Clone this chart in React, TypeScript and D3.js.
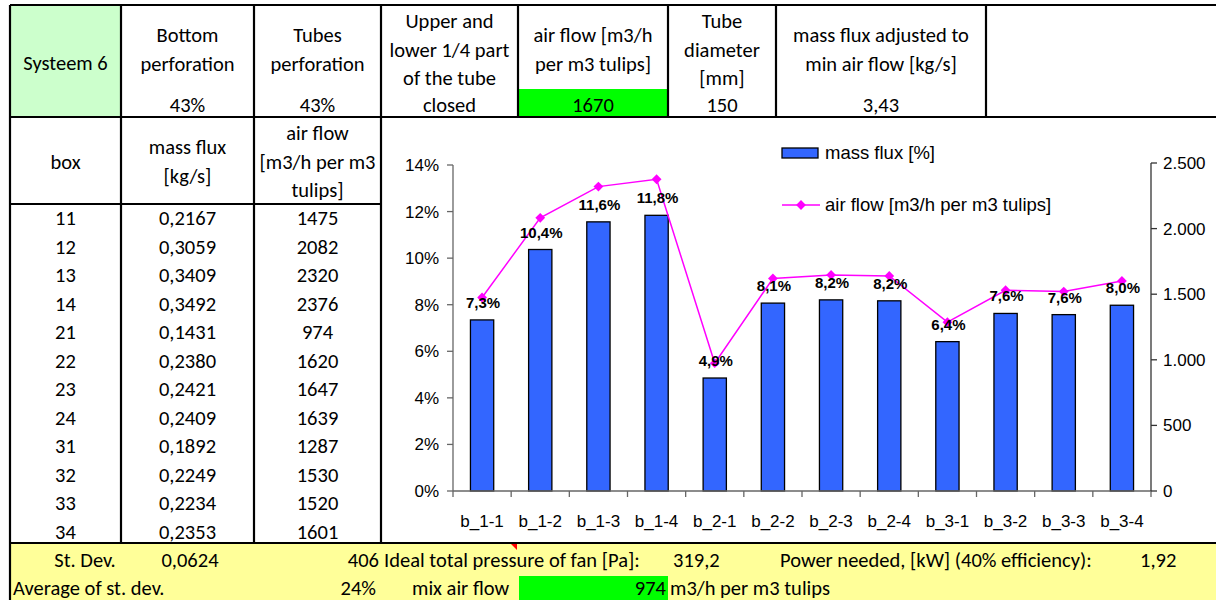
import * as d3 from "d3"

const categories = ["b_1-1", "b_1-2", "b_1-3", "b_1-4", "b_2-1", "b_2-2", "b_2-3", "b_2-4", "b_3-1", "b_3-2", "b_3-3", "b_3-4"]
const boxes = ["11", "12", "13", "14", "21", "22", "23", "24", "31", "32", "33", "34"]
const massFlux = [0.2167, 0.3059, 0.3409, 0.3492, 0.1431, 0.238, 0.2421, 0.2409, 0.1892, 0.2249, 0.2234, 0.2353]
const airFlow = [1475, 2082, 2320, 2376, 974, 1620, 1647, 1639, 1287, 1530, 1520, 1601]
const massFluxPct = [7.347, 10.371, 11.558, 11.839, 4.852, 8.069, 8.208, 8.167, 6.414, 7.625, 7.574, 7.977]
const leftTicks = [0, 2, 4, 6, 8, 10, 12, 14]
const rightTicks = [0, 500, 1000, 1500, 2000, 2500]

// header row of the sheet: [lines, value]
const topHeaders: { lines: string[]; value: string }[] = [
  { lines: ["Bottom", "perforation"], value: "43%" },
  { lines: ["Tubes", "perforation"], value: "43%" },
  { lines: ["Upper and", "lower 1/4 part", "of the tube"], value: "closed" },
  { lines: ["air flow [m3/h", "per m3 tulips]"], value: "1670" },
  { lines: ["Tube", "diameter", "[mm]"], value: "150" },
  { lines: ["mass flux adjusted to", "min air flow [kg/s]"], value: "3,43" },
]

const W = 1216
const H = 600
const cellFont = "Carlito, Lato, sans-serif"
const cellSize = 20.5
const chartFont = "'Liberation Sans', Arial, sans-serif"

const colX = [10, 121, 254, 381, 518, 668, 776, 986, W]
const rowLineH = 28.5

const loc = d3.formatLocale({ decimal: ",", thousands: ".", grouping: [3], currency: ["", "€"] })
const fmtThousands = loc.format(",")
const fmtMass = (v: number) => d3.format(".4f")(v).replace(".", ",")
const fmtPct = (v: number) => d3.format(".1f")(v).replace(".", ",") + "%"

export default function App() {
  const x = d3.scaleBand<string>().domain(categories).range([453, 1151]).paddingInner(0.6).paddingOuter(0.3)
  const step = x.step()
  const yL = d3.scaleLinear().domain([0, 14]).range([491, 165])
  const yR = d3.scaleLinear().domain([0, 2500]).range([491, 163])

  const line = d3
    .line<number>()
    .x((_, i) => x(categories[i])! + x.bandwidth() / 2)
    .y((d) => yR(d))

  const diamond = d3.symbol(d3.symbolSquare, 48)()

  const center = (i: number) => (colX[i] + colX[i + 1]) / 2

  return (
    <svg width={W} height={H} style={{ position: "absolute", left: 0, top: 0, background: "#fff" }}>
      {/* cell fills */}
      <rect x={10} y={5} width={111} height={112} fill="#ccffcc" />
      <rect x={518} y={89} width={150} height={28} fill="#00ff00" />
      <rect x={10} y={543} width={W - 10} height={H - 543} fill="#ffff99" />
      <rect x={519} y={576} width={149} height={24} fill="#00ff00" />

      {/* top row text */}
      <g fontFamily={cellFont} fontSize={cellSize} textAnchor="middle" fill="#000">
        <text x={center(0)} y={63} dy="0.35em">Systeem 6</text>
        {topHeaders.map((h, i) => {
          const start = h.lines.length === 3 ? 21 : 35
          return (
            <g key={i}>
              {h.lines.map((l, j) => (
                <text key={j} x={center(i + 1)} y={start + j * rowLineH} dy="0.35em">{l}</text>
              ))}
              <text x={center(i + 1)} y={105} dy="0.35em">{h.value}</text>
            </g>
          )
        })}
        {/* second header */}
        <text x={center(0)} y={162} dy="0.35em">box</text>
        <text x={center(1)} y={147} dy="0.35em">mass flux</text>
        <text x={center(1)} y={176} dy="0.35em">[kg/s]</text>
        <text x={center(2)} y={133} dy="0.35em">air flow</text>
        <text x={center(2)} y={162} dy="0.35em">[m3/h per m3</text>
        <text x={center(2)} y={190} dy="0.35em">tulips]</text>
        {boxes.map((b, i) => (
          <g key={b}>
            <text x={center(0)} y={218 + i * rowLineH} dy="0.35em">{b}</text>
            <text x={center(1)} y={218 + i * rowLineH} dy="0.35em">{fmtMass(massFlux[i])}</text>
            <text x={center(2)} y={218 + i * rowLineH} dy="0.35em">{airFlow[i]}</text>
          </g>
        ))}
      </g>

      {/* bottom yellow rows */}
      <g fontFamily={cellFont} fontSize={cellSize} fill="#000">
        <text x={85} y={560} dy="0.35em" textAnchor="middle">St. Dev.</text>
        <text x={190} y={560} dy="0.35em" textAnchor="middle">0,0624</text>
        <text x={379} y={560} dy="0.35em" textAnchor="end">406</text>
        <text x={384} y={560} dy="0.35em">Ideal total pressure of fan [Pa]:</text>
        <text x={673} y={560} dy="0.35em">319,2</text>
        <text x={780} y={560} dy="0.35em">Power needed, [kW] (40% efficiency):</text>
        <text x={1140} y={560} dy="0.35em">1,92</text>
        <text x={13} y={588} dy="0.35em">Average of st. dev.</text>
        <text x={376} y={588} dy="0.35em" textAnchor="end">24%</text>
        <text x={412} y={588} dy="0.35em">mix air flow</text>
        <text x={666} y={588} dy="0.35em" textAnchor="end">974</text>
        <text x={670} y={588} dy="0.35em">m3/h per m3 tulips</text>
      </g>
      <path d="M510,543 L517,543 L517,550 Z" fill="#ff0000" />

      {/* grid lines */}
      <g stroke="#000" strokeWidth={2.2}>
        <line x1={10} x2={W} y1={5} y2={5} />
        <line x1={10} x2={W} y1={117} y2={117} />
        <line x1={10} x2={381} y1={204} y2={204} />
        <line x1={10} x2={W} y1={543} y2={543} />
        {colX.slice(0, 8).map((cx, i) => (
          <line key={i} x1={cx} x2={cx} y1={5} y2={117} />
        ))}
        {colX.slice(0, 4).map((cx, i) => (
          <line key={"b" + i} x1={cx} x2={cx} y1={117} y2={i === 0 ? H : 543} />
        ))}
      </g>

      {/* chart */}
      <g fontFamily={chartFont}>
        {/* bars */}
        {massFluxPct.map((v, i) => (
          <rect
            key={i}
            x={x(categories[i])}
            y={yL(v)}
            width={x.bandwidth()}
            height={yL(0) - yL(v)}
            fill="#3366ff"
            stroke="#000"
            strokeWidth={1.3}
          />
        ))}

        {/* left axis */}
        <g stroke="#666" strokeWidth={1.3}>
          <line x1={453} x2={453} y1={yL(14)} y2={yL(0)} />
          {leftTicks.map((t) => (
            <line key={t} x1={447} x2={453} y1={yL(t)} y2={yL(t)} />
          ))}
          <line x1={453} x2={1151} y1={yL(0)} y2={yL(0)} />
          {d3.range(categories.length + 1).map((i) => (
            <line key={i} x1={453 + i * step} x2={453 + i * step} y1={yL(0)} y2={yL(0) + 6} />
          ))}
        </g>
        <g stroke="#333" strokeWidth={1.3}>
          <line x1={1151} x2={1151} y1={yR(2500)} y2={yR(0)} />
          {rightTicks.map((t) => (
            <line key={t} x1={1151} x2={1157} y1={yR(t)} y2={yR(t)} />
          ))}
        </g>
        <g fontSize={17} fill="#000">
          {leftTicks.map((t) => (
            <text key={t} x={439} y={yL(t)} dy="0.35em" textAnchor="end">{t}%</text>
          ))}
          {rightTicks.map((t) => (
            <text key={t} x={1163} y={yR(t)} dy="0.35em">{fmtThousands(t)}</text>
          ))}
          {categories.map((c) => (
            <text key={c} x={x(c)! + x.bandwidth() / 2} y={527} textAnchor="middle">{c}</text>
          ))}
        </g>

        {/* air flow line */}
        <path d={line(airFlow) ?? ""} fill="none" stroke="#ff00ff" strokeWidth={1.5} />
        {airFlow.map((v, i) => (
          <path
            key={i}
            d={diamond ?? ""}
            transform={`translate(${x(categories[i])! + x.bandwidth() / 2},${yR(v)}) rotate(45)`}
            fill="#ff00ff"
          />
        ))}

        {/* data labels */}
        <g fontSize={15} fontWeight="bold" textAnchor="middle" fill="#000">
          {massFluxPct.map((v, i) => (
            <text key={i} x={x(categories[i])! + x.bandwidth() / 2 + 1} y={yL(v) - 12}>{fmtPct(v)}</text>
          ))}
        </g>

        {/* legend */}
        <rect x={782} y={148} width={36} height={10} fill="#3366ff" stroke="#000" strokeWidth={1.3} />
        <text x={825} y={153} dy="0.35em" fontSize={18.5}>mass flux [%]</text>
        <line x1={782} x2={820} y1={205} y2={205} stroke="#ff00ff" strokeWidth={1.5} />
        <path d={diamond ?? ""} transform="translate(801,205) rotate(45)" fill="#ff00ff" />
        <text x={825} y={205} dy="0.35em" fontSize={18.5}>air flow [m3/h per m3 tulips]</text>
      </g>
    </svg>
  )
}
